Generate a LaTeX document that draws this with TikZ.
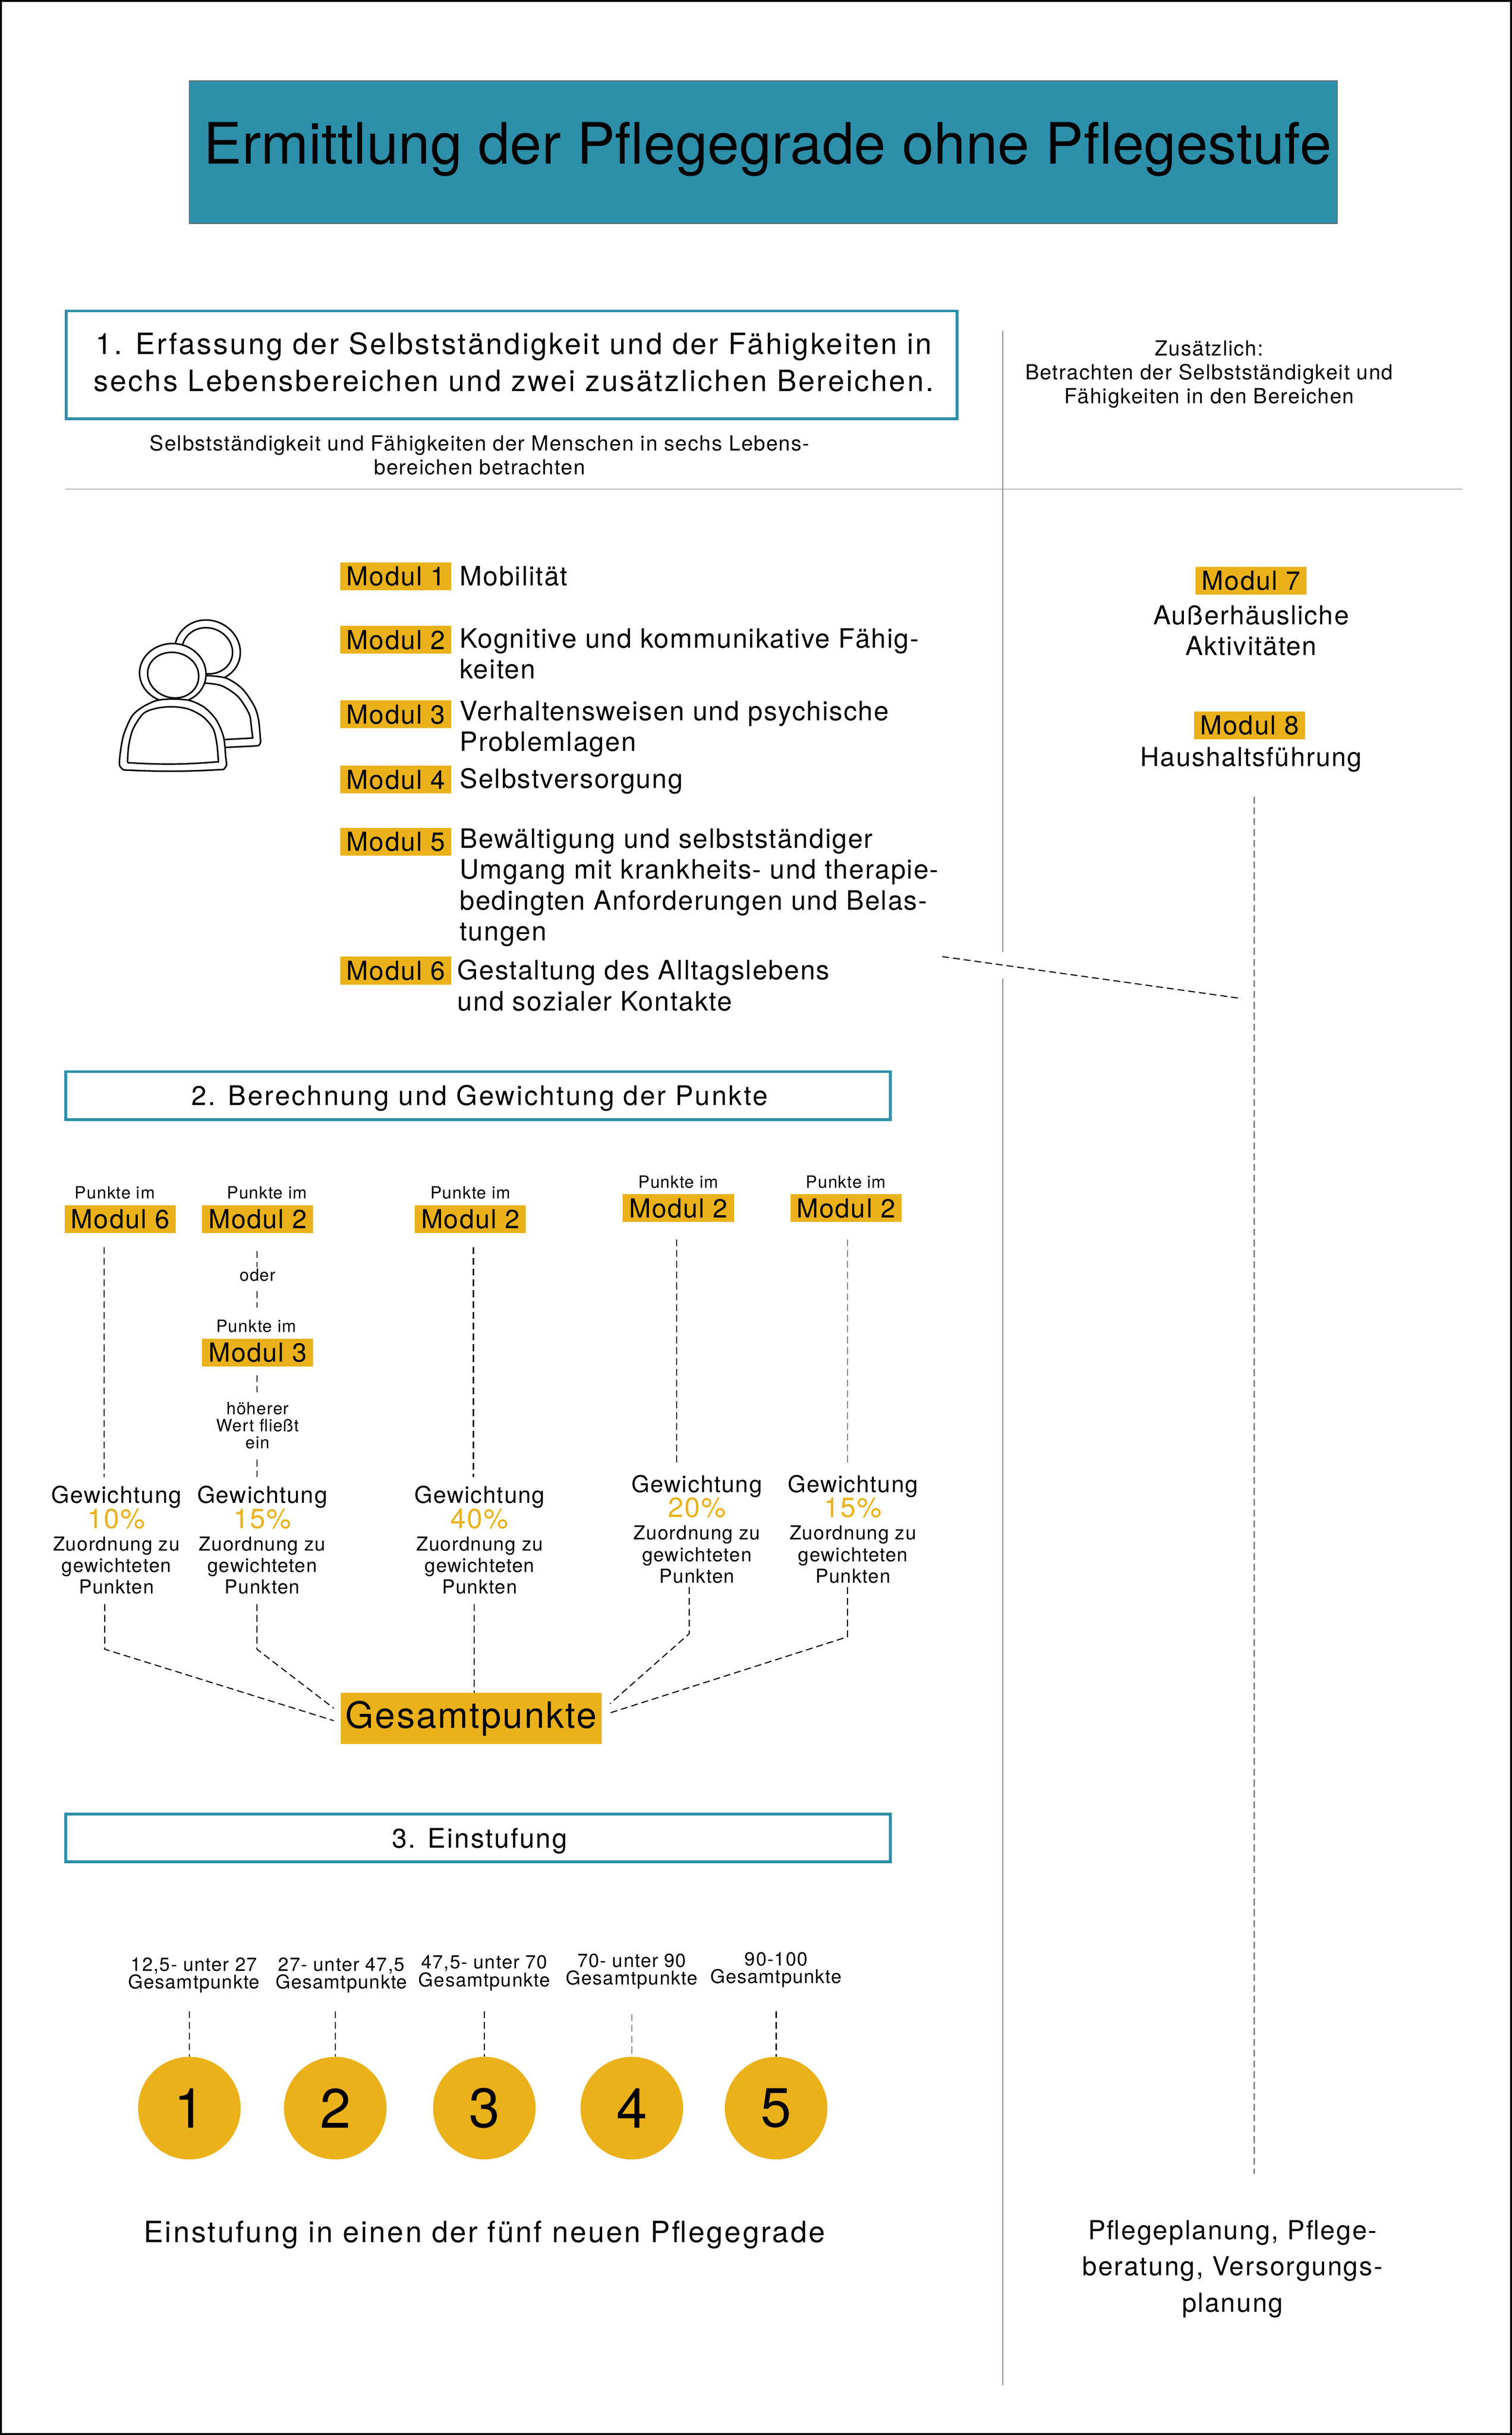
\documentclass[tikz,border=0pt]{standalone}
\usepackage{fontspec}
\setmainfont{TeX Gyre Heros}
\usetikzlibrary{positioning}
\definecolor{petrol}{HTML}{2D8FA9}
\definecolor{gold}{HTML}{EAB11A}
\newcommand{\gr}[3]{\addfontfeature{LetterSpace=#3}\fontsize{#1}{#2}\selectfont}
\begin{document}
\begin{tikzpicture}
[x=0.03537cm,y=-0.03537cm,
titel/.style = {draw=black!60, line width=.4pt, fill=petrol, minimum width=744.5pt, minimum height=92.5pt, inner sep=0pt},
rahmen/.style = {draw=petrol, line width=1.8pt, inner sep=0pt},
modul/.style = {fill=gold, minimum width=72pt, minimum height=18pt, inner sep=0pt, font=\gr{17}{18}{4}},
body/.style = {inner sep=0pt, align=left, anchor=west, font=\gr{17.3}{20}{4}},
mitte/.style = {inner sep=0pt, align=center, font=\gr{17}{20}{4}},
klein/.style = {inner sep=0pt, align=center, font=\gr{13.5}{15.5}{4.3}},
punkte/.style = {inner sep=0pt, align=center, font=\gr{11}{11}{4}},
gew/.style = {inner sep=0pt, align=center, font=\gr{15}{15}{4}},
proz/.style = {inner sep=0pt, text=gold, font=\gr{18}{18}{4}},
zuord/.style = {inner sep=0pt, align=center, font=\gr{12.5}{14}{4}},
stufe/.style = {inner sep=0pt, align=center, font=\gr{12.3}{11.5}{4}},
kreis/.style = {circle, fill=gold, minimum size=66.5pt, inner sep=0pt, font=\gr{36}{36}{0}},
strich/.style = {line width=.7pt, dash pattern=on 4.5pt off 2.5pt},
grau/.style = {line width=.6pt, draw=black!50},
strichgrau/.style = {strich, draw=black!50},
icon/.style = {line width=1pt, fill=white},]
\useasboundingbox (0,0) rectangle (974,1568);
\draw[line width=1.2pt] (.6,.6) rectangle (973.4,1567.4);

\node (T) at (491.75,98)[titel] {};
\node (Tt) at (494.5,96)[inner sep=0pt, font=\gr{37}{40}{.3}] {Ermittlung der Pflegegrade ohne Pflegestufe};

\node (B1) at (329.5,235)[rahmen, minimum width=577.5pt, minimum height=70pt] {};
\node (B1t) at (331,233)[inner sep=0pt, align=center, font=\gr{19}{24}{6.4}] {1. Erfassung der Selbstständigkeit und der Fähigkeiten in\\sechs Lebensbereichen und zwei zusätzlichen Bereichen.};
\node (S1) at (309,293)[klein] {Selbstständigkeit und Fähigkeiten der Menschen in sechs Lebens-\\bereichen betrachten};
\node (Z1) at (779,241)[klein] {Zusätzlich:\\Betrachten der Selbstständigkeit und\\Fähigkeiten in den Bereichen};

\coordinate (Va) at (646,213);
\coordinate (Vb) at (646,613);
\coordinate (Vc) at (646,630);
\coordinate (Vd) at (646,1536);
\coordinate (Ha) at (42,315);
\coordinate (Hb) at (942,315);
\draw[grau] (Va)--(Vb);
\draw[grau] (Vc)--(Vd);
\draw[grau] (Ha)--(Hb);

\begin{scope}[shift={(56.54,353.4)},x=0.003333cm,y=-0.003509cm]
\filldraw[icon] plot[smooth cycle,tension=1] coordinates {(595,660) (815,462) (1045,670) (820,860)};
\filldraw[icon] plot[smooth cycle,tension=1] coordinates {(645,660) (815,512) (992,670) (820,812)};
\filldraw[icon] plot[smooth] coordinates {(700,822) (810,822) (950,840) (1060,910) (1140,1020) (1170,1110) (1184,1250)} to[out=-90,in=0] (1158,1279) -- (700,1300) -- cycle;
\filldraw[icon] plot[smooth] coordinates {(700,872) (810,872) (920,890) (1030,960) (1105,1070) (1120,1150) (1130,1228)} -- (700,1250) -- cycle;
\filldraw[icon] plot[smooth cycle,tension=1] coordinates {(355,810) (580,615) (810,810) (590,1000)};
\filldraw[icon] plot[smooth cycle,tension=1] coordinates {(410,810) (585,672) (760,825) (590,968)};
\filldraw[icon] plot[smooth] coordinates {(245,1435) (218,1405) (222,1330) (245,1210) (300,1090) (370,1030) (470,985) (580,975) (700,985) (800,1030) (880,1110) (930,1220) (945,1350) (950,1405) (930,1432)} to[bend left=3] (245,1435);
\filldraw[icon] plot[smooth] coordinates {(272,1388) (280,1280) (310,1170) (380,1070) (470,1035) (580,1025) (690,1040) (790,1090) (860,1170) (885,1270) (895,1382)} to[bend left=4] (272,1388);
\end{scope}

\node (M1) at (255,371)[modul] {Modul 1};
\node (M2) at (255,412)[modul] {Modul 2};
\node (M3) at (255,460)[modul] {Modul 3};
\node (M4) at (255,502)[modul] {Modul 4};
\node (M5) at (255,542)[modul] {Modul 5};
\node (M6) at (255,625)[modul] {Modul 6};
\node (L1) at (296,371)[body] {Mobilität};
\node (L2) at (296,421)[body] {Kognitive und kommunikative Fähig-\\keiten};
\node (L3) at (296,469.5)[body] {Verhaltensweisen und psychische\\Problemlagen};
\node (L4) at (296,503)[body] {Selbstversorgung};
\node (L5) at (296,571.5)[body] {Bewältigung und selbstständiger\\Umgang mit krankheits- und therapie-\\bedingten Anforderungen und Belas-\\tungen};
\node (L6) at (294.5,634.5)[body] {Gestaltung des Alltagslebens\\und sozialer Kontakte};

\node (M7) at (806,374)[modul] {Modul 7};
\node (L7) at (806,406)[mitte] {Außerhäusliche\\Aktivitäten};
\node (M8) at (805,467)[modul] {Modul 8};
\node (L8) at (806,489)[mitte] {Haushaltsführung};

\coordinate (Da) at (607,616);
\coordinate (Db) at (800,643);
\coordinate (Dc) at (808,513);
\coordinate (Dd) at (808,1400);
\draw[strich] (Da)--(Db);
\draw[strichgrau] (Dc)--(Dd);

\node (B2) at (308,705.5)[rahmen, minimum width=534.5pt, minimum height=31pt] {};
\node (B2t) at (309,707)[inner sep=0pt, font=\gr{17.5}{20}{6.5}] {2. Berechnung und Gewichtung der Punkte};

\node (P1) at (74,768)[punkte] {Punkte im};
\node (A1) at (77.5,785)[modul] {Modul 6};
\node (P2) at (172,768)[punkte] {Punkte im};
\node (A2) at (166,785)[modul] {Modul 2};
\node (O2) at (166,821)[punkte] {oder};
\node (P3) at (165,854)[punkte] {Punkte im};
\node (A3) at (166,871)[modul] {Modul 3};
\node (W3) at (166,918)[punkte] {höherer\\Wert fließt\\ein};
\node (P4) at (303,768)[punkte] {Punkte im};
\node (A4) at (303,785)[modul] {Modul 2};
\node (P5) at (437,761)[punkte] {Punkte im};
\node (A5) at (437,778)[modul] {Modul 2};
\node (P6) at (545,761)[punkte] {Punkte im};
\node (A6) at (545,778)[modul] {Modul 2};

\node (G1) at (75,964)[gew] {Gewichtung};
\node (R1) at (75,978)[proz] {10\%};
\node (U1) at (75,1008)[zuord] {Zuordnung zu\\gewichteten\\Punkten};
\node (G2) at (169,964)[gew] {Gewichtung};
\node (R2) at (169,978)[proz] {15\%};
\node (U2) at (169,1008)[zuord] {Zuordnung zu\\gewichteten\\Punkten};
\node (G3) at (309,964)[gew] {Gewichtung};
\node (R3) at (309,978)[proz] {40\%};
\node (U3) at (309,1008)[zuord] {Zuordnung zu\\gewichteten\\Punkten};
\node (G4) at (449,957)[gew] {Gewichtung};
\node (R4) at (449,971)[proz] {20\%};
\node (U4) at (449,1001)[zuord] {Zuordnung zu\\gewichteten\\Punkten};
\node (G5) at (549.5,957)[gew] {Gewichtung};
\node (R5) at (549.5,971)[proz] {15\%};
\node (U5) at (549.5,1001)[zuord] {Zuordnung zu\\gewichteten\\Punkten};

\node (GP) at (303.5,1106.5)[fill=gold, minimum width=169pt, minimum height=33pt, inner sep=0pt, font=\gr{23.5}{25}{4}] {Gesamtpunkte};

\coordinate (a1) at (67,803);
\coordinate (a2) at (67,951);
\coordinate (b1) at (165.5,805.5);
\coordinate (b2) at (165.5,816);
\coordinate (b3) at (165.5,831.5);
\coordinate (b4) at (165.5,842);
\coordinate (b5) at (165.5,885.5);
\coordinate (b6) at (165.5,896.5);
\coordinate (b7) at (165.5,940);
\coordinate (b8) at (165.5,951);
\coordinate (c1) at (305,803);
\coordinate (c2) at (305,951);
\coordinate (d1) at (436,798);
\coordinate (d2) at (436,944);
\coordinate (e1) at (546,798);
\coordinate (e2) at (546,944);
\draw[strich] (a1)--(a2);
\draw[strich] (b1)--(b2);
\draw[strich] (b3)--(b4);
\draw[strich] (b5)--(b6);
\draw[strich] (b7)--(b8);
\draw[strich] (c1)--(c2);
\draw[strich] (d1)--(d2);
\draw[strichgrau] (e1)--(e2);

\coordinate (f1) at (67.5,1033);
\coordinate (f2) at (67.5,1062);
\coordinate (f3) at (215,1108);
\coordinate (g1) at (165.5,1033);
\coordinate (g2) at (165.5,1062);
\coordinate (g3) at (215,1100);
\coordinate (h1) at (305.5,1033);
\coordinate (i1) at (444,1022);
\coordinate (i2) at (444,1052);
\coordinate (i3) at (393,1097);
\coordinate (j1) at (546,1022);
\coordinate (j2) at (546,1054);
\coordinate (j3) at (393,1103);
\draw[strich] (f1)--(f2)--(f3);
\draw[strich] (g1)--(g2)--(g3);
\draw[strich] (h1)--(h1|-GP.north);
\draw[strich] (i1)--(i2)--(i3);
\draw[strich] (j1)--(j2)--(j3);

\node (B3) at (308,1183.5)[rahmen, minimum width=534.5pt, minimum height=31pt] {};
\node (B3t) at (309,1185.5)[inner sep=0pt, font=\gr{17.5}{20}{5}] {3. Einstufung};

\node (E1) at (125,1272)[stufe] {12,5- unter 27\\Gesamtpunkte};
\node (E2) at (220,1272)[stufe] {27- unter 47,5\\Gesamtpunkte};
\node (E3) at (312,1270.5)[stufe] {47,5- unter 70\\Gesamtpunkte};
\node (E4) at (407,1269.5)[stufe] {70- unter 90\\Gesamtpunkte};
\node (E5) at (500,1268.5)[stufe] {90-100\\Gesamtpunkte};

\node (K1) at (122,1357.5)[kreis] {1};
\node (K2) at (216,1357.5)[kreis] {2};
\node (K3) at (312,1357.5)[kreis] {3};
\node (K4) at (407,1357.5)[kreis] {4};
\node (K5) at (500,1357.5)[kreis] {5};

\coordinate (k1) at (122,1295);
\coordinate (k2) at (216,1295);
\coordinate (k3) at (312,1295);
\coordinate (k4) at (407,1297);
\coordinate (k5) at (500,1295);
\draw[strich] (k1)--(k1|-K1.north);
\draw[strich] (k2)--(k2|-K2.north);
\draw[strich] (k3)--(k3|-K3.north);
\draw[strichgrau] (k4)--(k4|-K4.north);
\draw[strich] (k5)--(k5|-K5.north);

\node (N1) at (312,1439)[inner sep=0pt, font=\gr{19}{20}{6.2}] {Einstufung in einen der fünf neuen Pflegegrade};
\node (N2) at (794,1461)[inner sep=0pt, align=center, font=\gr{17}{23.5}{5}] {Pflegeplanung, Pflege-\\beratung, Versorgungs-\\planung};

\end{tikzpicture}
\end{document}
